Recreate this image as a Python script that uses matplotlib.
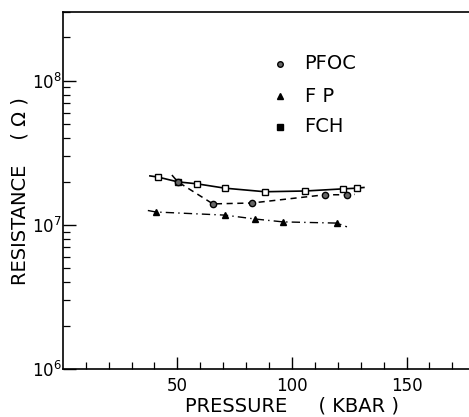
import matplotlib
matplotlib.use("Agg")
from matplotlib import pyplot as plt
from matplotlib.ticker import LogLocator, FixedLocator, NullFormatter

# data (pressure in kbar, resistance in ohm)
# first and last entries are the ends of the drawn curves (no marker there)
fch_p = [38.0, 41.5, 50.2, 58.5, 70.7, 88.2, 105.7, 122.3, 128.4, 131.4]
fch_r = [2.19e7, 2.15e7, 1.99e7, 1.93e7, 1.80e7, 1.70e7, 1.72e7, 1.78e7, 1.80e7, 1.82e7]

pfoc_p = [47.6, 50.2, 65.5, 82.5, 114.4, 124.0, 127.5]
pfoc_r = [2.22e7, 1.99e7, 1.40e7, 1.42e7, 1.62e7, 1.62e7, 1.63e7]

fp_p = [37.1, 40.6, 70.7, 83.8, 96.1, 119.7, 124.0]
fp_r = [1.26e7, 1.23e7, 1.17e7, 1.10e7, 1.05e7, 1.03e7, 0.97e7]

legend_names = ["PFOC", "F P", "FCH"]
legend_r = [1.31e8, 7.8e7, 4.8e7]

fig = plt.figure(figsize=(4.69, 4.17), dpi=100)
# the original axes runs past the right edge of the scan (to 200 kbar)
ax = fig.add_axes([0.134, 0.115, 0.977, 0.856])

ax.plot(fch_p, fch_r, "k-", lw=1.2, marker="s", ms=4, mfc="white", mec="k", mew=1.0,
        markevery=list(range(1, len(fch_p) - 1)))
ax.plot(pfoc_p, pfoc_r, "k--", lw=1.1, marker="o", ms=4.5, mfc="0.4", mec="k", dashes=(4, 3),
        markevery=list(range(1, len(pfoc_p) - 1)))
ax.plot(fp_p, fp_r, "k-.", lw=1.0, marker="^", ms=4, mfc="k", mec="k", dashes=(6, 3, 1, 3),
        markevery=list(range(1, len(fp_p) - 1)))

ax.set_yscale("log")
ax.set_xlim(0, 200)
ax.set_ylim(1e6, 3.0e8)

ax.spines["right"].set_visible(False)
for s in ["left", "bottom", "top"]:
    ax.spines[s].set_linewidth(1.2)

ax.xaxis.set_major_locator(FixedLocator([50, 100, 150]))
ax.xaxis.set_minor_locator(FixedLocator([10, 20, 30, 40, 60, 70, 80, 90, 110, 120, 130, 140, 160, 170]))
ax.yaxis.set_major_locator(LogLocator(base=10, numticks=5))
ax.yaxis.set_minor_locator(LogLocator(base=10, subs=range(2, 10), numticks=20))
ax.yaxis.set_minor_formatter(NullFormatter())

ax.tick_params(axis="both", which="major", direction="in", length=9, width=1.0, labelsize=12)
ax.tick_params(axis="both", which="minor", direction="in", length=5, width=0.9)
ax.tick_params(top=False, right=False, which="both")
ax.tick_params(axis="x", pad=6)
ax.tick_params(axis="y", pad=1)

ax.set_xlabel("PRESSURE     ( KBAR )", fontsize=14, labelpad=1)
ax.set_ylabel("RESISTANCE    ( Ω )", fontsize=14)
ax.yaxis.set_label_coords(-0.072, 0.5)

# legend drawn as in the original: marker then name
leg_marks = [dict(marker="o", mfc="0.4"), dict(marker="^", mfc="k"), dict(marker="s", mfc="k")]
for name, r, m in zip(legend_names, legend_r, leg_marks):
    ax.plot([95], [r], ls="none", ms=4, mec="k", **m)
    ax.text(105.5, r, name, fontsize=14, va="center")

plt.savefig("out.png", dpi=100)
